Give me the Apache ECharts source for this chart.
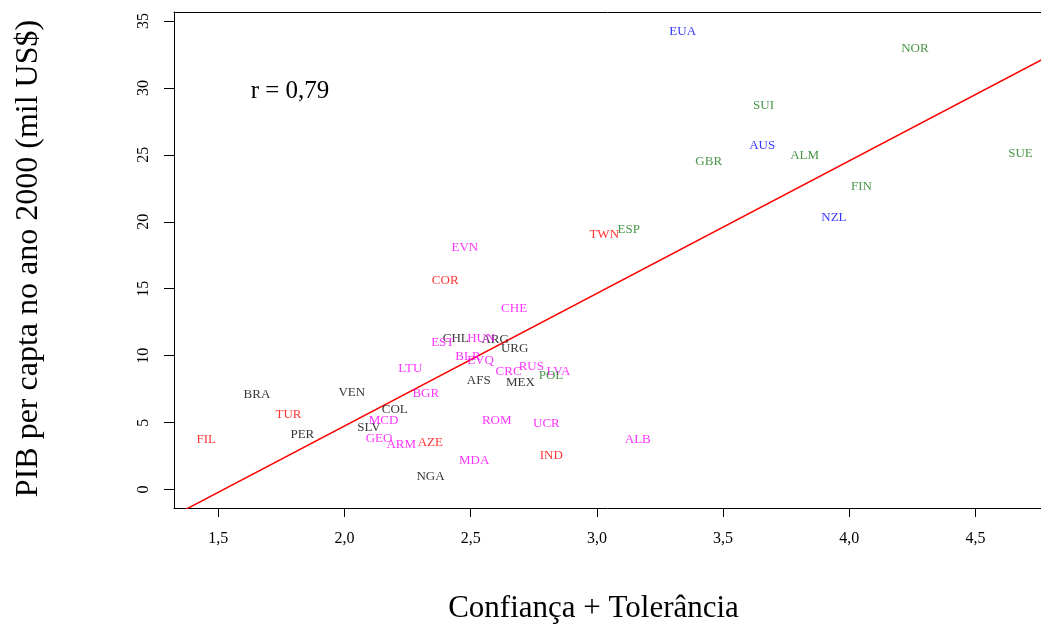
<!DOCTYPE html>
<html><head><meta charset="utf-8">
<script src="https://cdn.jsdelivr.net/npm/echarts@6/dist/echarts.min.js"></script>
<style>html,body{margin:0;padding:0;background:#fff}#c{width:1041px;height:632px}</style>
</head><body><div id="c"></div>
<script>
// ---- data ----
const blackNames = ['BRA','PER','VEN','COL','SLV','NGA','CHL','ARG','URG','AFS','MEX'];
const blackX     = [1.653,1.833,2.029,2.199,2.097,2.341,2.441,2.597,2.674,2.532,2.697];
const blackY     = [7.14, 4.15, 7.30, 6.02, 4.67, 1.03, 11.39,11.26,10.64,8.19, 8.04];

const redNames = ['FIL','TUR','AZE','COR','TWN','IND'];
const redX     = [1.452,1.778,2.340,2.399,3.029,2.819];
const redY     = [3.78, 5.67, 3.59, 15.65,19.12,2.59];

const magentaNames = ['MCD','GEO','ARM','LTU','BGR','EST','HUN','BLR','EVQ','CRC','RUS','LVA','ROM','UCR','ALB','MDA','CHE','EVN'];
const magentaX     = [2.155,2.137,2.225,2.261,2.322,2.389,2.542,2.489,2.539,2.650,2.740,2.848,2.603,2.800,3.162,2.514,2.672,2.477];
const magentaY     = [5.21, 3.87, 3.40, 9.11, 7.23, 11.02,11.32,9.98, 9.72, 8.92, 9.26, 8.92, 5.21, 4.98, 3.78, 2.21, 13.58,18.12];

const greenNames = ['POL','ESP','NOR','SUI','ALM','GBR','SUE','FIN'];
const greenX     = [2.818,3.126,4.260,3.660,3.823,3.443,4.678,4.048];
const greenY     = [8.57, 19.49,33.01,28.77,25.03,24.57,25.18,22.72];

const blueNames = ['EUA','AUS','NZL'];
const blueX     = [3.340,3.655,3.939];
const blueY     = [34.26,25.77,20.39];

// regression line endpoints
const fitX = [1.3245, 4.84];
const fitY = [-1.94, 32.87];

const xTicks = [1.5, 2.0, 2.5, 3.0, 3.5, 4.0, 4.5];
const yTicks = [0, 5, 10, 15, 20, 25, 30, 35];

const rText = 'r = 0,79';
const xTitle = 'Confiança + Tolerância';
const yTitle = 'PIB per capta no ano 2000 (mil US$)';

// ---- chart ----
const FONT = 'Liberation Serif, Times New Roman, serif';
const X_MIN = 1.3245, X_MAX = 4.7595, Y_MIN = -1.376, Y_MAX = 35.67;
function pts(names, xs, ys) {
  return names.map((n, i) => ({ name: n, value: [xs[i], ys[i]] }));
}
function labelSeries(names, xs, ys, color) {
  return {
    type: 'scatter',
    data: pts(names, xs, ys),
    symbolSize: 0,
    itemStyle: { color: 'rgba(0,0,0,0)' },
    label: {
      show: true, position: 'inside', formatter: '{b}', offset: [0, 1],
      color: color, fontFamily: FONT, fontSize: 13,
      align: 'center', verticalAlign: 'middle'
    },
    silent: true, z: 3
  };
}

const chart = echarts.init(document.getElementById('c'), null, { renderer: 'canvas' });
chart.setOption({
  animation: false,
  backgroundColor: '#ffffff',
  grid: { left: 174, top: 12, right: 0, height: 496, show: false },
  xAxis: [{
    type: 'value', min: X_MIN, max: X_MAX, position: 'bottom',
    axisLine: { show: true, onZero: false, lineStyle: { color: '#000', width: 1 } },
    axisTick: { show: true, customValues: xTicks, length: 9, lineStyle: { color: '#000', width: 1 } },
    axisLabel: {
      show: true, customValues: xTicks, margin: 23,
      formatter: v => v.toFixed(1).replace('.', ','),
      fontFamily: FONT, fontSize: 16, color: '#000'
    },
    splitLine: { show: false }
  }, {
    type: 'value', min: X_MIN, max: X_MAX, position: 'top',
    axisLine: { show: true, onZero: false, lineStyle: { color: '#000', width: 1 } },
    axisTick: { show: false }, axisLabel: { show: false }, splitLine: { show: false }
  }],
  yAxis: {
    type: 'value', min: Y_MIN, max: Y_MAX,
    axisLine: { show: true, onZero: false, lineStyle: { color: '#000', width: 1 } },
    axisTick: { show: true, customValues: yTicks, length: 10, lineStyle: { color: '#000', width: 1 } },
    axisLabel: {
      show: true, customValues: yTicks, margin: 22, rotate: 90,
      formatter: v => String(v),
      fontFamily: FONT, fontSize: 16, color: '#000'
    },
    splitLine: { show: false }
  },
  series: [
    {
      type: 'line',
      data: fitX.map((x, i) => [x, fitY[i]]),
      showSymbol: false, symbol: 'none', clip: true,
      lineStyle: { color: '#ff0000', width: 1.5 },
      silent: true, z: 2
    },
    labelSeries(blackNames, blackX, blackY, '#000000'),
    labelSeries(redNames, redX, redY, '#ff0000'),
    labelSeries(magentaNames, magentaX, magentaY, '#ff00ff'),
    labelSeries(greenNames, greenX, greenY, '#1a7a1a'),
    labelSeries(blueNames, blueX, blueY, '#0000ff')
  ],
  graphic: [
    { type: 'text', x: 290, y: 91, silent: true,
      style: { text: rText, font: '25px ' + FONT, fill: '#000', align: 'center', verticalAlign: 'middle' } },
    { type: 'text', x: 593.5, y: 609, silent: true,
      style: { text: xTitle, font: '31px ' + FONT, fill: '#000', align: 'center', verticalAlign: 'middle' } },
    { type: 'text', x: 29, y: 258.5, rotation: Math.PI / 2, silent: true,
      style: { text: yTitle, font: '32px ' + FONT, fill: '#000', align: 'center', verticalAlign: 'middle' } }
  ]
});
</script>
</body></html>
